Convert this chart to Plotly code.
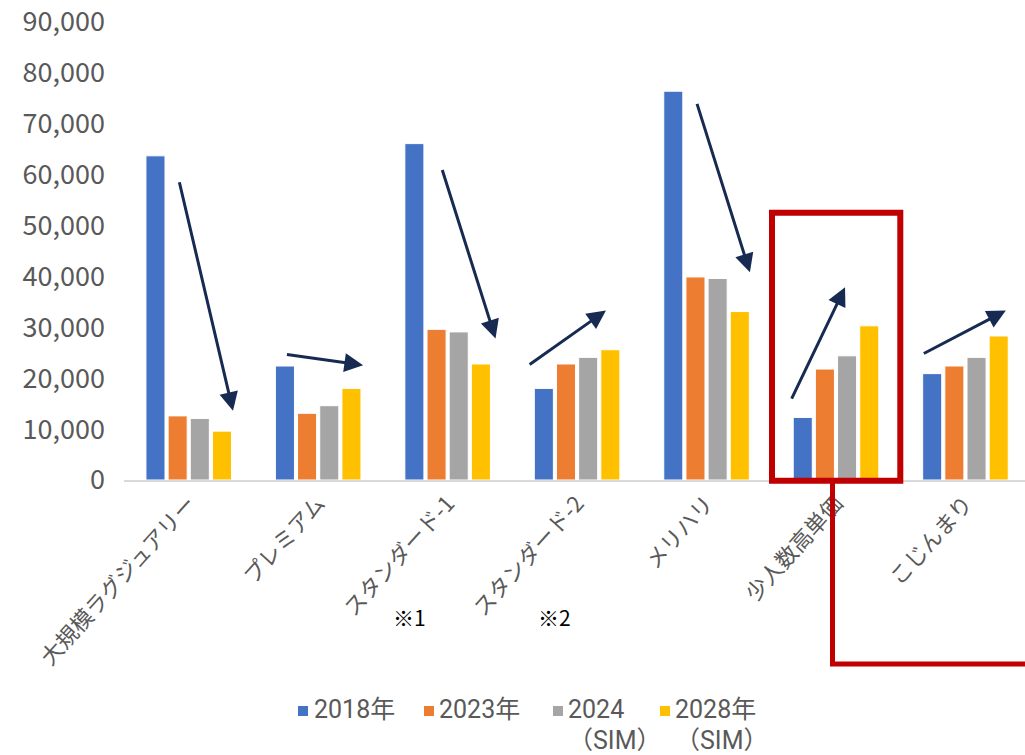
import plotly.graph_objects as go

categories = ["大規模ラグジュアリー", "プレミアム", "スタンダード-1", "スタンダード-2",
              "メリハリ", "少人数高単価", "こじんまり"]
series_names = ["2018年", "2023年", "2024（SIM）", "2028年（SIM）"]
legend_lines = [["2018年"], ["2023年"], ["2024", "（SIM）"], ["2028年", "（SIM）"]]
v2018 = [63700, 22400, 66100, 18000, 76400, 12300, 20900]
v2023 = [12600, 13100, 29600, 22800, 39900, 21800, 22400]
v2024 = [12100, 14600, 29100, 24100, 39600, 24400, 24100]
v2028 = [9600, 18000, 22800, 25600, 33100, 30300, 28300]
colors = ["#4472C4", "#ED7D31", "#A5A5A5", "#FFC000"]

y_ticks = list(range(0, 90001, 10000))
y_ticktext = [f"{v:,}" for v in y_ticks]

# trend arrows: (tail_x, tail_y, head_x, head_y) in category-index / value units
arrows = [
    (-0.075, 58800, 0.342, 13600),
    (0.747, 24700, 1.347, 22550),
    (1.955, 61200, 2.370, 27800),
    (2.622, 22500, 3.223, 33300),
    (3.923, 74200, 4.335, 40800),
    (4.652, 15700, 5.070, 37900),
    (5.667, 24700, 6.312, 33300),
]

notes = [("※1", 1.708), ("※2", 2.828)]

# layout geometry (pixels)
W, H = 1025, 755
ML, MT, MB = 124, 22, 275
PW, PH = W - ML, H - MT - MB


def px(xp):
    return (xp - ML) / PW


def py(yp):
    return (H - MB - yp) / PH


fig = go.Figure()
for name, vals, col in zip(series_names, [v2018, v2023, v2024, v2028], colors):
    fig.add_trace(go.Bar(
        x=list(range(len(categories))), y=vals, name=name, showlegend=False,
        marker=dict(color=col, line=dict(color="white", width=1)),
    ))

font_family = "Noto Sans CJK JP"
legend_family = "Roboto, 'Noto Sans CJK JP'"
grey = "#595959"

annotations = []
for tx, ty, hx, hy in arrows:
    annotations.append(dict(
        x=hx, y=hy, ax=tx, ay=ty, xref="x", yref="y", axref="x", ayref="y",
        text="", showarrow=True, arrowhead=2, arrowsize=1.25, arrowwidth=3,
        arrowcolor="#172B52", standoff=0, startstandoff=0,
    ))
for txt, xpos in notes:
    annotations.append(dict(
        x=xpos, y=py(617), xref="x", yref="paper", text=txt, showarrow=False,
        font=dict(family=font_family, size=21, color="#000000"),
        xanchor="center", yanchor="middle",
    ))

red = "#C00000"
shapes = [
    dict(type="rect", xref="paper", yref="paper", x0=px(772), x1=px(900.3),
         y0=py(480.7), y1=py(212.7), line=dict(color=red, width=6), layer="above"),
    dict(type="path", xref="paper", yref="paper",
         path=f"M{px(832.5)},{py(483)} L{px(832.5)},{py(664)} L{px(1030)},{py(664)}",
         line=dict(color=red, width=5), layer="above"),
]

# custom legend (square swatch + text, text wraps onto a second line)
legend_sq_x = [298, 424, 553, 660]
legend_text_x = [313, 438, 567, 674]
line_y = [709, 740]
for lines, col, sx, tx in zip(legend_lines, colors, legend_sq_x, legend_text_x):
    shapes.append(dict(type="rect", xref="paper", yref="paper",
                       x0=px(sx), x1=px(sx + 10), y0=py(716), y1=py(706),
                       fillcolor=col, line=dict(width=0)))
    for i, t in enumerate(lines):
        annotations.append(dict(
            x=px(tx), y=py(line_y[i]), xref="paper", yref="paper", text=t,
            showarrow=False, xanchor="left", yanchor="middle", borderpad=0,
            font=dict(family=legend_family, size=25, color=grey),
        ))

fig.update_layout(
    width=W, height=H,
    margin=dict(l=ML, r=0, t=MT, b=MB, autoexpand=False),
    paper_bgcolor="white", plot_bgcolor="white",
    barmode="group", bargap=0.315, bargroupgap=0.14,
    font=dict(family=font_family, color=grey),
    showlegend=False,
    xaxis=dict(
        range=[-0.5, 6.46], tickmode="array", tickvals=list(range(len(categories))),
        ticktext=categories, tickangle=-48, showgrid=False, zeroline=False,
        showline=True, linecolor="#D9D9D9", linewidth=2, ticks="",
        tickfont=dict(family=font_family, size=22, color=grey), automargin=False,
    ),
    yaxis=dict(
        range=[0, 90000], tickmode="array", tickvals=y_ticks, ticktext=y_ticktext,
        showgrid=False, zeroline=False, showline=False, ticks="",
        ticklabelstandoff=18,
        tickfont=dict(family=font_family, size=27, color=grey), automargin=False,
    ),
    annotations=annotations, shapes=shapes,
)

fig.write_html("out.html")
